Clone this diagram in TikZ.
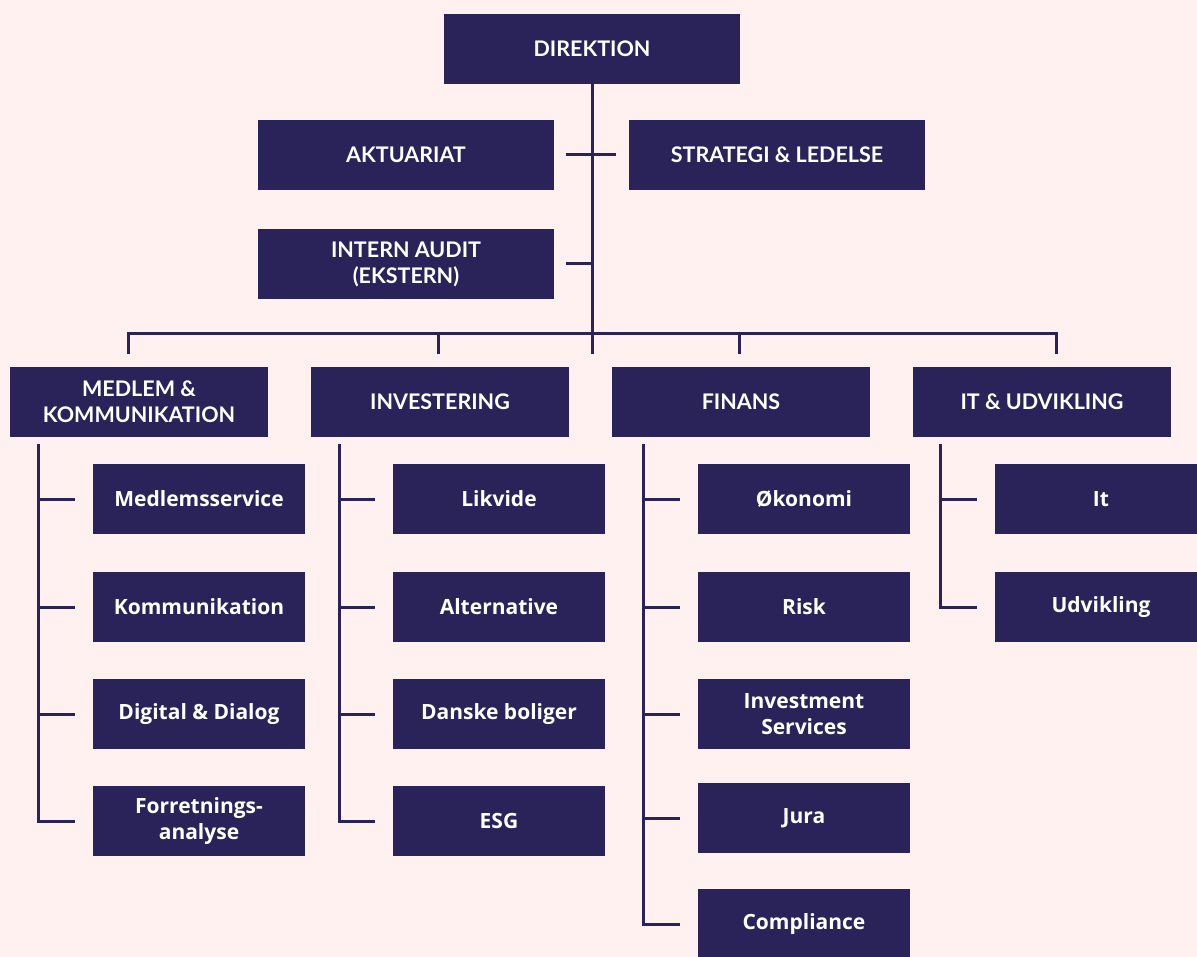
\documentclass[tikz,border=0pt]{standalone}
\usepackage{fontspec}
\setmainfont{Lato}
\newfontfamily\unitfont{Open Sans}
\usepackage{tikz}
\usetikzlibrary{positioning,calc}
\definecolor{navy}{HTML}{29235A}
\definecolor{blush}{HTML}{FEF1F0}
\begin{document}
\begin{tikzpicture}[x=1pt,y=-1pt,
    box/.style={fill=navy,text=white,minimum height=70pt,inner sep=0pt,align=center,
      font=\fontsize{21.5}{26}\selectfont\bfseries},
    topbox/.style={box,minimum width=296pt},
    deptbox/.style={box,minimum width=258pt},
    unitbox/.style={box,minimum width=212pt,
      font=\unitfont\fontsize{21}{26}\selectfont\bfseries},
    link/.style={draw=navy,line width=3pt}]
        \useasboundingbox (0,0) rectangle (1197,957);
        \clip (0,0) rectangle (1197,957);
        \fill [blush] (0,0) rectangle (1197,957);

        % top level
        \node [topbox] (dir) at (592,49) {DIREKTION};
        \node [topbox] (akt) at (406,155) {AKTUARIAT};
        \node [topbox] (strat) at (777,155) {STRATEGI \& LEDELSE};
        \node [topbox] (audit) at (406,264) {INTERN AUDIT\\(EKSTERN)};

        \coordinate (tr) at (592,354);
        \coordinate (bar) at (592,334);
        \draw [link] (dir.south) -- (tr);
        \draw [link,shorten >=12pt] (dir.south |- akt.east) -- (akt.east);
        \draw [link,shorten >=13pt] (dir.south |- strat.west) -- (strat.west);
        \draw [link,shorten >=12pt] (dir.south |- audit.east) -- (audit.east);

        % departments
        \node [deptbox] (medlem) at (139,402) {MEDLEM \&\\KOMMUNIKATION};
        \node [deptbox] (invest) at (440,402) {INVESTERING};
        \node [deptbox] (finans) at (741,402) {FINANS};
        \node [deptbox] (itudv) at (1042,402) {IT \& UDVIKLING};

        \coordinate (k1) at (128,354);
        \coordinate (k2) at (438,354);
        \coordinate (k3) at (739,354);
        \coordinate (k4) at (1056,354);
        \draw [link] (k1) |- (bar) -| (k4);
        \draw [link] (k2) -- (k2 |- bar);
        \draw [link] (k3) -- (k3 |- bar);

        % units
        \node [unitbox] (m1) at (199,499) {Medlemsservice};
        \node [unitbox] (m2) at (199,607) {Kommunikation};
        \node [unitbox] (m3) at (199,714) {Digital \& Dialog};
        \node [unitbox] (m4) at (199,821) {Forretnings-\\analyse};

        \node [unitbox] (i1) at (499,499) {Likvide};
        \node [unitbox] (i2) at (499,607) {Alternative};
        \node [unitbox] (i3) at (499,714) {Danske boliger};
        \node [unitbox] (i4) at (499,821) {ESG};

        \node [unitbox] (f1) at (804,499) {Økonomi};
        \node [unitbox] (f2) at (804,607) {Risk};
        \node [unitbox] (f3) at (804,714) {Investment\\Services};
        \node [unitbox] (f4) at (804,818) {Jura};
        \node [unitbox] (f5) at (804,924) {Compliance};

        \node [unitbox] (u1) at (1101,499) {It};
        \node [unitbox] (u2) at (1101,607) {Udvikling};

        \coordinate (ms) at (38,444);
        \coordinate (is) at (339,444);
        \coordinate (fs) at (643,444);
        \coordinate (us) at (940,444);

        \draw [link,shorten >=18pt] (ms) |- (m4.west);
        \foreach \n in {m1,m2,m3}
          \draw [link,shorten >=18pt] (ms |- \n.west) -- (\n.west);
        \draw [link,shorten >=18pt] (is) |- (i4.west);
        \foreach \n in {i1,i2,i3}
          \draw [link,shorten >=18pt] (is |- \n.west) -- (\n.west);
        \draw [link,shorten >=18pt] (fs) |- (f5.west);
        \foreach \n in {f1,f2,f3,f4}
          \draw [link,shorten >=18pt] (fs |- \n.west) -- (\n.west);
        \draw [link,shorten >=18pt] (us) |- (u2.west);
        \draw [link,shorten >=18pt] (us |- u1.west) -- (u1.west);
      \end{tikzpicture}
\end{document}
